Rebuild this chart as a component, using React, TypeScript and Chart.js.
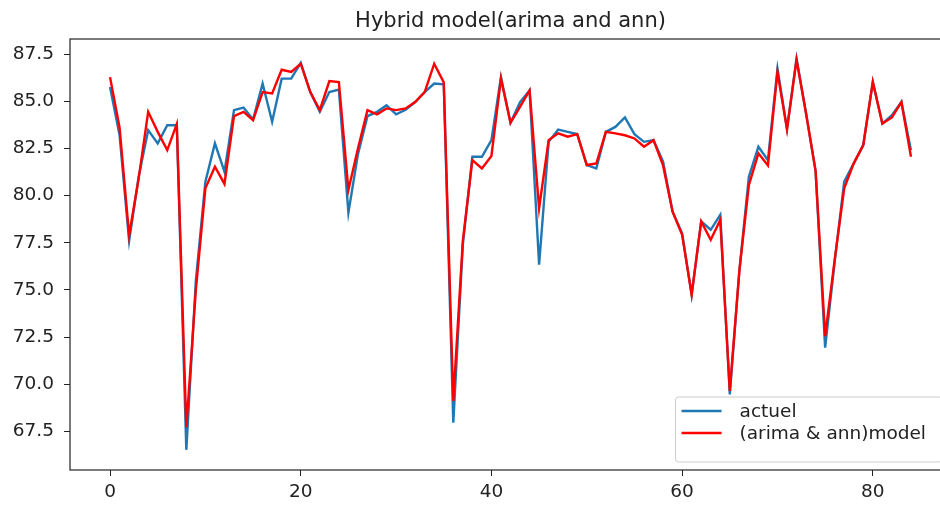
import { useEffect, useRef } from "react";
import { Chart, registerables } from "chart.js";

Chart.register(...registerables);

const TITLE = "Hybrid model(arima and ann)";
const SERIES_LABELS = ["actuel", "(arima & ann)model"];
const SERIES_COLORS = ["#1f77b4", "#ff0000"];

const X_TICKS = [0, 20, 40, 60, 80];
const Y_TICKS = [67.5, 70.0, 72.5, 75.0, 77.5, 80.0, 82.5, 85.0, 87.5];

const ACTUEL = [
  85.76, 83.2, 77.6, 81.0, 83.47, 82.77, 83.73, 83.73, 66.53, 75.5,
  80.74, 82.77, 81.27, 84.53, 84.67, 84.03, 85.94, 83.91, 86.2, 86.2,
  87.04, 85.49, 84.45, 85.49, 85.62, 79.1, 82.2, 84.21, 84.44, 84.79,
  84.31, 84.55, 84.96, 85.49, 85.94, 85.9, 67.97, 77.4, 82.06, 82.06,
  82.94, 86.28, 83.86, 84.96, 85.58, 76.34, 82.85, 83.5, 83.38, 83.26,
  81.62, 81.44, 83.38, 83.64, 84.14, 83.26, 82.85, 82.94, 81.8, 79.15,
  78.0, 74.75, 78.63, 78.19, 78.98, 69.47, 76.0, 81.0, 82.59, 81.88,
  86.73, 83.56, 87.26, 84.35, 81.3, 71.94, 76.5, 80.74, 81.71, 82.68,
  86.02, 83.82, 84.26, 84.96, 82.41,
];

const MODEL = [
  86.28, 83.6, 77.9, 80.9, 84.44, 83.38, 82.41, 83.8, 67.71, 75.0,
  80.39, 81.53, 80.62, 84.21, 84.44, 84.0, 85.49, 85.41, 86.67, 86.55,
  86.99, 85.49, 84.53, 86.07, 86.02, 80.3, 82.5, 84.53, 84.31, 84.62,
  84.53, 84.62, 84.96, 85.49, 86.99, 86.0, 69.12, 77.6, 81.88, 81.44,
  82.1, 86.2, 83.86, 84.7, 85.58, 79.33, 82.94, 83.3, 83.12, 83.26,
  81.62, 81.7, 83.38, 83.3, 83.2, 83.03, 82.59, 82.94, 81.6, 79.15,
  77.92, 74.75, 78.63, 77.66, 78.71, 69.65, 76.0, 80.56, 82.24, 81.6,
  86.55, 83.5, 87.2, 84.35, 81.3, 72.55, 76.6, 80.39, 81.71, 82.68,
  86.02, 83.82, 84.14, 84.96, 82.06,
];

const FONT = '"DejaVu Sans", sans-serif';
const TEXT = "#222222";
const FS = 18.5;
const TITLE_FS = 21;

export default function App() {
  const ref = useRef<HTMLCanvasElement>(null);

  useEffect(() => {
    document.body.style.margin = "0";
    const canvas = ref.current;
    if (!canvas) return;

    const framePlugin = {
      id: "frame",
      afterDatasetsDraw(chart: any) {
        const { ctx, chartArea: a } = chart;
        ctx.save();
        ctx.strokeStyle = TEXT;
        ctx.lineWidth = 1.2;
        ctx.strokeRect(a.left, a.top, a.right - a.left, a.bottom - a.top);
        ctx.restore();
      },
    };

    const titlePlugin = {
      id: "mplTitle",
      afterDraw(chart: any) {
        const { ctx, chartArea: a } = chart;
        ctx.save();
        ctx.font = `${TITLE_FS}px ${FONT}`;
        ctx.fillStyle = TEXT;
        ctx.textAlign = "center";
        ctx.textBaseline = "alphabetic";
        ctx.fillText(TITLE, (a.left + a.right) / 2, a.top - 12);
        ctx.restore();
      },
    };

    const legendPlugin = {
      id: "mplLegend",
      afterDraw(chart: any) {
        const { ctx, chartArea: a } = chart;
        ctx.save();
        ctx.font = `${FS}px ${FONT}`;
        const textW = Math.max(...SERIES_LABELS.map((t) => ctx.measureText(t).width));
        const handleStart = 6;
        const handleLen = 40;
        const textStart = 64;
        const boxW = textStart + textW + 16;
        const boxH = 65;
        const right = a.right - 9;
        const bottom = a.bottom - 8;
        const left = right - boxW;
        const top = bottom - boxH;
        const r = 3;
        ctx.beginPath();
        ctx.moveTo(left + r, top);
        ctx.lineTo(right - r, top);
        ctx.arcTo(right, top, right, top + r, r);
        ctx.lineTo(right, bottom - r);
        ctx.arcTo(right, bottom, right - r, bottom, r);
        ctx.lineTo(left + r, bottom);
        ctx.arcTo(left, bottom, left, bottom - r, r);
        ctx.lineTo(left, top + r);
        ctx.arcTo(left, top, left + r, top, r);
        ctx.closePath();
        ctx.fillStyle = "rgba(255,255,255,0.8)";
        ctx.fill();
        ctx.strokeStyle = "#cccccc";
        ctx.lineWidth = 1;
        ctx.stroke();
        SERIES_LABELS.forEach((label, i) => {
          const y = top + 14 + i * 22;
          ctx.strokeStyle = SERIES_COLORS[i];
          ctx.lineWidth = 2.4;
          ctx.beginPath();
          ctx.moveTo(left + handleStart, y);
          ctx.lineTo(left + handleStart + handleLen, y);
          ctx.stroke();
          ctx.fillStyle = TEXT;
          ctx.textAlign = "left";
          ctx.textBaseline = "middle";
          ctx.fillText(label, left + textStart, y + 1);
        });
        ctx.restore();
      },
    };

    const tickFont = { family: FONT, size: FS };
    const gridOpts = {
      display: true,
      drawOnChartArea: false,
      drawTicks: true,
      tickLength: 6,
      tickColor: TEXT,
      tickWidth: 1,
    };

    const chart = new Chart(canvas, {
      type: "line",
      data: {
        datasets: [
          {
            label: SERIES_LABELS[0],
            data: ACTUEL.map((v, i) => ({ x: i, y: v })),
            borderColor: SERIES_COLORS[0],
            backgroundColor: SERIES_COLORS[0],
            borderWidth: 2.4,
            pointRadius: 0,
            tension: 0,
            fill: false,
            order: 1,
          },
          {
            label: SERIES_LABELS[1],
            data: MODEL.map((v, i) => ({ x: i, y: v })),
            borderColor: SERIES_COLORS[1],
            backgroundColor: SERIES_COLORS[1],
            borderWidth: 2.4,
            pointRadius: 0,
            tension: 0,
            fill: false,
            order: 0,
          },
        ],
      },
      options: {
        responsive: false,
        animation: false,
        devicePixelRatio: 1,
        layout: { padding: { left: 0, right: 69, top: 39, bottom: 0 } },
        plugins: {
          legend: { display: false },
          tooltip: { enabled: false },
          title: { display: false },
        },
        scales: {
          x: {
            type: "linear",
            min: -4.2,
            max: 88.2,
            afterBuildTicks: (s: any) => {
              s.ticks = X_TICKS.map((v) => ({ value: v }));
            },
            afterFit: (s: any) => {
              s.height = 36;
            },
            grid: gridOpts,
            border: { display: false },
            ticks: {
              font: tickFont,
              color: TEXT,
              padding: 5,
              maxRotation: 0,
              autoSkip: false,
              callback: (v: any) => String(v),
            },
          },
          y: {
            type: "linear",
            min: 65.46,
            max: 88.3,
            afterBuildTicks: (s: any) => {
              s.ticks = Y_TICKS.map((v) => ({ value: v }));
            },
            afterFit: (s: any) => {
              s.width = 70;
            },
            grid: gridOpts,
            border: { display: false },
            ticks: {
              font: tickFont,
              color: TEXT,
              padding: 10,
              autoSkip: false,
              callback: (v: any) => Number(v).toFixed(1),
            },
          },
        },
      },
      plugins: [framePlugin, titlePlugin, legendPlugin],
    } as any);

    return () => chart.destroy();
  }, []);

  return (
    <div
      style={{
        position: "absolute",
        left: 0,
        top: 0,
        width: 940,
        height: 506,
        overflow: "hidden",
        background: "#ffffff",
      }}
    >
      <canvas ref={ref} width={1020} height={506} style={{ display: "block" }} />
    </div>
  );
}
